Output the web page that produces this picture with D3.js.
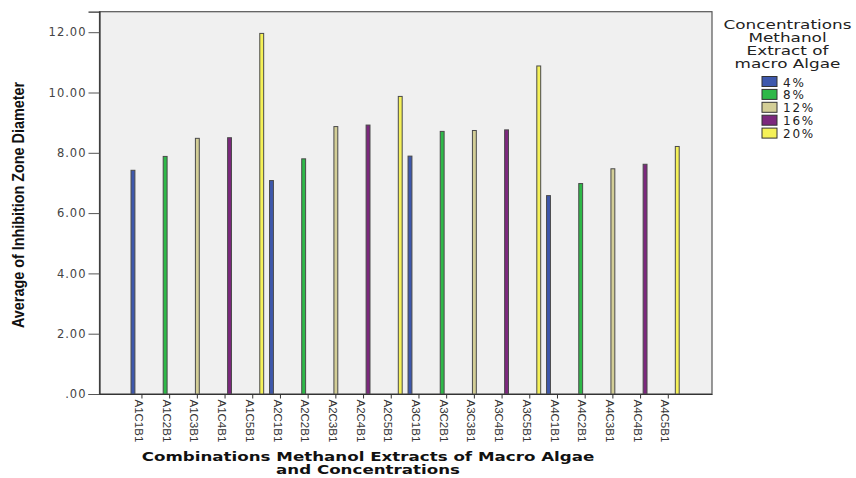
<!DOCTYPE html>
<html><head><meta charset="utf-8">
<script src="https://cdn.jsdelivr.net/npm/d3@7"></script>
<style>body{margin:0;background:#fff;} svg{display:block;}</style>
</head><body>
<svg id="chart" width="856" height="478"></svg>
<script>
const categories = ["A1C1B1","A1C2B1","A1C3B1","A1C4B1","A1C5B1",
  "A2C1B1","A2C2B1","A2C3B1","A2C4B1","A2C5B1",
  "A3C1B1","A3C2B1","A3C3B1","A3C4B1","A3C5B1",
  "A4C1B1","A4C2B1","A4C3B1","A4C4B1","A4C5B1"];
const seriesNames = ["4%","8%","12%","16%","20%"];
const seriesColors = ["#3E58AC","#2EB848","#D3CE97","#7C287D","#F5F158"];
// concentration series of each category, and its value
const catSeries = ["4%","8%","12%","16%","20%","4%","8%","12%","16%","20%",
  "4%","8%","12%","16%","20%","4%","8%","12%","16%","20%"];
const values = [7.42,7.88,8.48,8.50,11.96, 7.08,7.80,8.87,8.92,9.87,
  7.89,8.71,8.74,8.76,10.88, 6.58,6.98,7.47,7.62,8.21];
const yTicks = [0,2,4,6,8,10,12];
const legendTitle = ["Concentrations","Methanol","Extract of","macro Algae"];
const xTitle = ["Combinations Methanol Extracts of Macro Algae","and Concentrations"];
const yTitle = "Average of Inhibition Zone Diameter";

const svg = d3.select("#chart");
const L = 99.5, R = 712, T = 11.7, B = 394;

const x = d3.scaleBand().domain(categories).range([L, R])
  .paddingInner(0.19).paddingOuter(1.15).align(0.49);
const x1 = d3.scaleBand().domain(seriesNames).range([0, x.bandwidth()]);
const y = d3.scaleLinear().domain([0, 12.68]).range([B, T]);
const color = d3.scaleOrdinal().domain(seriesNames).range(seriesColors);

// stretch a group horizontally so a reference line gets a target width
function stretch(g, refNode, target) {
  const w = refNode.getComputedTextLength();
  g.attr("transform", g.attr("transform") + ` scale(${target / w},1)`);
}

// plot background
svg.append("rect").attr("x", L).attr("y", T).attr("width", R - L).attr("height", B - T)
  .attr("fill", "#f0f0f0").attr("stroke", "#555").attr("stroke-width", 1.2);

// bars
const data = categories.map((c, i) => ({c, s: catSeries[i], v: values[i]}));
svg.append("g").selectAll("rect").data(data).join("rect")
  .attr("x", d => x(d.c) + x1(d.s) + 0.3)
  .attr("y", d => y(d.v))
  .attr("width", x1.bandwidth() - 0.6)
  .attr("height", d => y(0) - y(d.v))
  .attr("fill", d => color(d.s))
  .attr("stroke", "#4a4a4a").attr("stroke-width", 1);

// y axis
const yAxis = svg.append("g").attr("transform", `translate(${L},0)`)
  .call(d3.axisLeft(y).tickValues(yTicks).tickSize(11).tickPadding(2)
    .tickFormat(d => d === 0 ? ".00" : d.toFixed(2)));
yAxis.select(".domain").attr("stroke", "#333").attr("stroke-width", 1.2);
yAxis.selectAll(".tick line").attr("stroke", "#555");
yAxis.selectAll(".tick text").attr("fill", "#444")
  .style("font-family", "'DejaVu Sans', Verdana, sans-serif").style("font-size", "11.5px")
  .style("letter-spacing", "1px");

// x axis
const xAxis = svg.append("g").attr("transform", `translate(0,${B})`)
  .call(d3.axisBottom(x).tickSize(4.5).tickSizeOuter(0));
xAxis.select(".domain").attr("stroke", "#333").attr("stroke-width", 1.2);
xAxis.selectAll(".tick line").attr("stroke", "#333");
xAxis.selectAll(".tick text")
  .attr("transform", "rotate(90)")
  .attr("x", 5.5).attr("y", 0).attr("dy", "0.6em")
  .attr("text-anchor", "start")
  .attr("fill", "#333")
  .style("font-family", "'Liberation Sans', Arial, sans-serif")
  .style("font-size", "11.5px");

// x axis title
const xt = svg.append("g").attr("transform", "translate(368,0)");
const xtText = xt.selectAll("text").data(xTitle).join("text")
  .attr("x", 0).attr("y", (d, i) => 461.5 + i * 13)
  .attr("text-anchor", "middle")
  .style("font-family", "'DejaVu Sans', Verdana, sans-serif")
  .style("font-weight", "bold").style("font-size", "12.5px")
  .attr("fill", "#111").text(d => d);
stretch(xt, xtText.nodes()[0], 453);

// y axis title (condensed)
svg.append("text")
  .attr("transform", "translate(24,205) rotate(-90)")
  .attr("text-anchor", "middle")
  .attr("textLength", 246).attr("lengthAdjust", "spacingAndGlyphs")
  .style("font-family", "'Liberation Sans', Arial, sans-serif")
  .style("font-weight", "bold").style("font-size", "17px")
  .attr("fill", "#111").text(yTitle);

// legend
const lt = svg.append("g").attr("transform", "translate(787.5,0)");
const ltText = lt.selectAll("text").data(legendTitle).join("text")
  .attr("x", 0).attr("y", (d, i) => 29.5 + i * 12.8)
  .attr("text-anchor", "middle")
  .style("font-family", "'DejaVu Sans', Verdana, sans-serif").style("font-size", "12.5px")
  .attr("fill", "#222").text(d => d);
stretch(lt, ltText.nodes()[0], 128);

const items = svg.append("g").selectAll("g.item").data(seriesNames).join("g").attr("class", "item")
  .attr("transform", (d, i) => `translate(762,${76.5 + i * 12.9})`);
items.append("rect").attr("width", 15).attr("height", 10)
  .attr("fill", d => color(d)).attr("stroke", "#333").attr("stroke-width", 1);
items.append("text").attr("x", 21).attr("y", 10)
  .style("font-family", "'DejaVu Sans', Verdana, sans-serif").style("font-size", "12px")
  .style("letter-spacing", "1.8px")
  .attr("fill", "#222").text(d => d);
</script>
</body></html>
